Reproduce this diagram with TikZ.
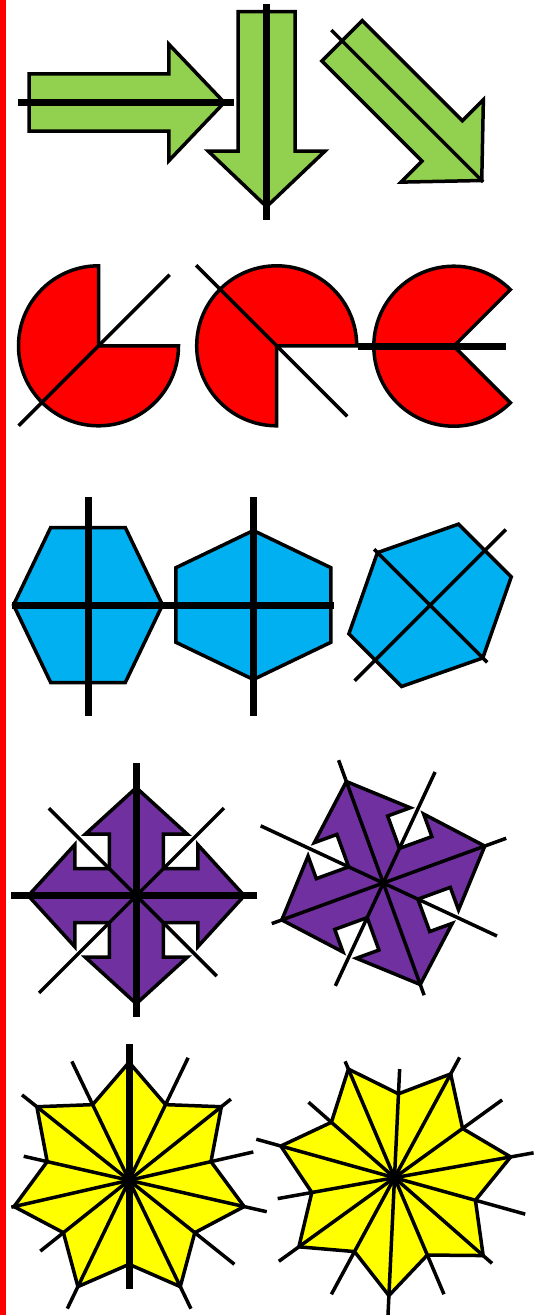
\documentclass[tikz,border=0pt]{standalone}
\usetikzlibrary{calc}
\definecolor{cgreen}{HTML}{92D050}
\definecolor{cred}{HTML}{FF0000}
\definecolor{cblue}{HTML}{00B0F0}
\definecolor{cpurple}{HTML}{7030A0}
\definecolor{cyellow}{HTML}{FFFF00}
\begin{document}
\begin{tikzpicture}[x=1pt,y=1pt,
  shapeline/.style={draw=black, line width=3.5pt, line join=miter},
  thinline/.style={draw=black, line width=3.5pt},
  thickline/.style={draw=black, line width=7pt}]
\useasboundingbox (0,0) rectangle (537,-1315);
\fill[cred] (0,0) rectangle (6,-1315);

% ---------- row 1: single arrows ----------
\begin{scope}[shift={(29.1,-102.5)}]
  \filldraw[shapeline, fill=cgreen] (0,28.6) -- (139.7,28.6) -- (139.7,58.3) -- (195.2,0) -- (139.7,-58.3) -- (139.7,-28.6) -- (0,-28.6) -- cycle;
  \draw[thickline] (-11.3,0) -- (204.8,0);
\end{scope}
\begin{scope}[shift={(266.6,-11.7)}, rotate=-90]
  \filldraw[shapeline, fill=cgreen] (0,28.6) -- (139.5,28.6) -- (139.5,58.3) -- (195,0) -- (139.5,-58.3) -- (139.5,-28.6) -- (0,-28.6) -- cycle;
  \draw[thickline] (-7.7,0) -- (208.3,0);
\end{scope}
\begin{scope}[shift={(342.1,-40.85)}, rotate=-45]
  \filldraw[shapeline, fill=cgreen] (0,28.6) -- (141.5,28.6) -- (141.5,58.3) -- (197.5,0) -- (141.5,-58.3) -- (141.5,-28.6) -- (0,-28.6) -- cycle;
  \draw[thinline] (-15.2,0) -- (199.6,0);
\end{scope}

% ---------- row 2: circle sectors ----------
\coordinate (c1) at (98.5,-345.8);
\coordinate (c2) at (276.7,-345.8);
\coordinate (c3) at (453.8,-346.2);
\filldraw[shapeline, fill=cred] (c1) -- ++(90:80) arc[start angle=90, end angle=360, radius=80] -- cycle;
\draw[thinline] ($(c1)+(225:113)$) -- ($(c1)+(45:100.6)$);
\filldraw[shapeline, fill=cred] (c2) -- ++(0:80) arc[start angle=0, end angle=270, radius=80] -- cycle;
\draw[thinline] ($(c2)+(135:114)$) -- ($(c2)+(315:99.8)$);
\filldraw[shapeline, fill=cred] (c3) -- ++(45:80) arc[start angle=45, end angle=315, radius=80] -- cycle;
\draw[thickline] ($(c3)+(-95.9,0)$) -- ($(c3)+(52.4,0)$);

% ---------- row 3: hexagons ----------
\begin{scope}[shift={(88,-605)}]
  \filldraw[shapeline, fill=cblue] (-37.3,77.5) -- (37.3,77.5) -- (74.5,0) -- (37.3,-77.5) -- (-37.3,-77.5) -- (-74.5,0) -- cycle;
  \draw[thickline] (0,107.7) -- (0,-111);
\end{scope}
\begin{scope}[shift={(253.4,-605)}, rotate=90]
  \filldraw[shapeline, fill=cblue] (-37.3,77.5) -- (37.3,77.5) -- (74.5,0) -- (37.3,-77.5) -- (-37.3,-77.5) -- (-74.5,0) -- cycle;
  \draw[thickline] (107.7,0) -- (-111,0);
\end{scope}
\draw[thickline] (12,-605.3) -- (333.9,-605.3);
\begin{scope}[shift={(430.1,-605.3)}, rotate=-45]
  \filldraw[shapeline, fill=cblue] (-37.3,77.5) -- (37.3,77.5) -- (74.5,0) -- (37.3,-77.5) -- (-37.3,-77.5) -- (-74.5,0) -- cycle;
  \draw[thinline] (-79.3,0) -- (80.8,0);
  \draw[thinline] (0,-106.8) -- (0,107.2);
\end{scope}

% ---------- row 4: four-way arrows ----------
\begin{scope}[shift={(136.3,-895.7)}]
  \filldraw[shapeline, fill=cpurple] (0,108) -- (51,61.5) -- (27,61.5) -- (27,27) -- (61.5,27) -- (61.5,51) -- (108,0) -- (61.5,-51) -- (61.5,-27) -- (27,-27) -- (27,-61.5) -- (51,-61.5) -- (0,-108) -- (-51,-61.5) -- (-27,-61.5) -- (-27,-27) -- (-61.5,-27) -- (-61.5,-51) -- (-108,0) -- (-61.5,51) -- (-61.5,27) -- (-27,27) -- (-27,61.5) -- (-51,61.5) -- cycle;
  \draw[thinline] (45:124) -- (225:137.5);
  \draw[thinline] (135:123.6) -- (315:113.7);
  \draw[thickline] (0,132.4) -- (0,-121);
  \draw[thickline] (-125.3,0) -- (120.5,0);
\end{scope}
\begin{scope}[shift={(383.3,-883)}, rotate=20]
  \filldraw[shapeline, fill=cpurple] (0,108) -- (51,61.5) -- (27,61.5) -- (27,27) -- (61.5,27) -- (61.5,51) -- (108,0) -- (61.5,-51) -- (61.5,-27) -- (27,-27) -- (27,-61.5) -- (51,-61.5) -- (0,-108) -- (-51,-61.5) -- (-27,-61.5) -- (-27,-27) -- (-61.5,-27) -- (-61.5,-51) -- (-108,0) -- (-61.5,51) -- (-61.5,27) -- (-27,27) -- (-27,61.5) -- (-51,61.5) -- cycle;
  \draw[thinline] (0,130.7) -- (0,-119.4);
  \draw[thinline] (-118.7,0) -- (130.8,0);
  \draw[thinline] (45:122.5) -- (225:113.5);
  \draw[thinline] (135:135.3) -- (315:125.4);
\end{scope}

% ---------- row 5: seven-point stars ----------
\begin{scope}[shift={(129.1,-1180.3)}]
  \filldraw[shapeline, fill=cyellow] (90:118) \foreach \j in {1,...,13} { -- ({90-\j*180/7}:{118-34*mod(\j,2)}) } -- cycle;
  \foreach \k/\a/\b in {1/130.2/113.6, 2/141.2/108.1, 3/142.5/132, 4/142.4/136, 5/120.8/127.4, 6/137/134.7}
    \draw[thinline] ({90-\k*360/7}:\a) -- ({270-\k*360/7}:\b);
  \draw[thickline] (90:136.3) -- (270:109);
\end{scope}
\begin{scope}[shift={(394.5,-1177.7)}]
  \filldraw[shapeline, fill=cyellow] (113:118) \foreach \j in {1,...,13} { -- ({113-\j*180/7}:{118-34*mod(\j,2)}) } -- cycle;
  \foreach \k/\a/\b in {0/126.4/126.6, 1/136.8/132.6, 2/141.3/118.7, 3/129.8/114.4, 4/137.5/108.8, 5/142.7/132.8, 6/143.5/135.7}
    \draw[thinline] ({113-\k*360/7}:\a) -- ({293-\k*360/7}:\b);
\end{scope}
\end{tikzpicture}
\end{document}
